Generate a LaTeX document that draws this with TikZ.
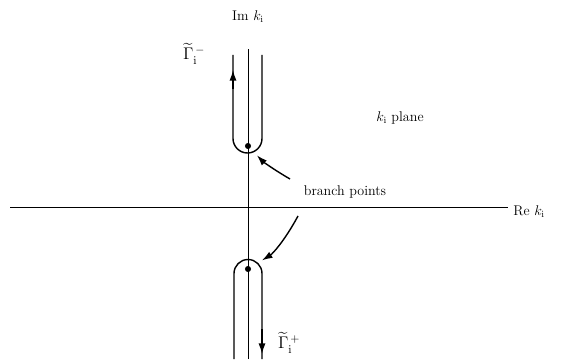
\documentclass[tikz,border=0pt]{standalone}
\usepackage{amsmath,amssymb}
\usepackage{tikz}
\usetikzlibrary{arrows.meta,positioning}

\begin{document}
\begin{tikzpicture}[x=0.03cm,y=0.03cm,
    axis/.style={line width=0.7pt},
    contour/.style={line width=1.2pt},
    lbl/.style={font=\large, inner sep=1pt},
    glbl/.style={font=\Large, inner sep=1pt},
    tip/.style={-{Latex[length=9pt,width=6pt]}}]
        \useasboundingbox (0,0) rectangle (564,359);

        % Axes
        \coordinate (west) at (10,152);
        \coordinate (east) at (508,152);
        \coordinate (south) at (248,0);
        \coordinate (north) at (248,310);
        \draw[axis] (west) -- (east);
        \draw[axis] (south) -- (north);
        \node[lbl, anchor=west] (rek) at (512,147) {Re $k_{\mathrm{i}}$};
        \node[lbl] (imk) at (248,342) {Im $k_{\mathrm{i}}$};
        \node[lbl] (plane) at (400,241) {$k_{\mathrm{i}}$ plane};

        % Branch points
        \fill (248,213) circle (2.6pt) coordinate (bpup);
        \fill (248,90) circle (2.6pt) coordinate (bpdown);
        \node[lbl] (branch) at (345,167) {branch points};

        % Upper contour, going up on the left
        \draw[contour] (233,304) -- (233,220.5)
            arc[start angle=180, end angle=360, radius=0.435cm] -- (262,304);
        \draw[contour, tip] (233,270) -- (233,289);
        \node[glbl] (gminus) at (194,305) {$\widetilde{\Gamma}_{\mathrm{i}}^{\,-}$};

        % Lower contour, going down on the right
        \draw[contour] (234,0) -- (234,85.5)
            arc[start angle=180, end angle=0, radius=0.42cm] -- (262,0);
        \draw[contour, tip] (262,30) -- (262,5);
        \node[glbl] (gplus) at (289,16) {$\widetilde{\Gamma}_{\mathrm{i}}^{\,+}$};

        % Arrows to the branch points
        \coordinate (tailup) at (290,180);
        \coordinate (taildown) at (298,143);
        \draw[contour, tip, shorten >=11pt] (tailup) to[bend left=8] (bpup);
        \draw[contour, tip, shorten >=14pt] (taildown) to[bend left=15] (bpdown);
    \end{tikzpicture}
\end{document}
